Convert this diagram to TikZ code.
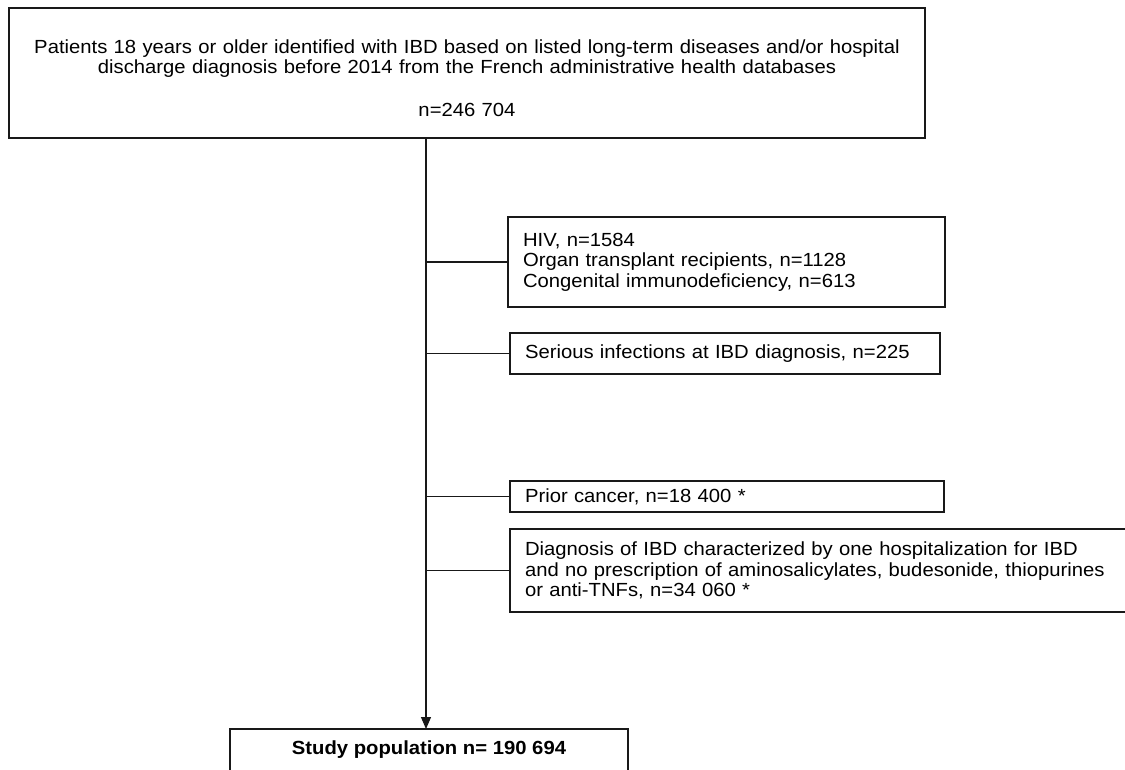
\documentclass[tikz,border=0pt]{standalone}
\usepackage{fontspec}
\setmainfont{Liberation Sans}[FakeStretch=1.066]
\usepackage{xcolor}
\usepackage{tikz}
\usetikzlibrary{arrows.meta, positioning, calc}
\definecolor{boxline}{RGB}{25, 25, 25}

\tikzset{
    flowbox/.style={draw=boxline, line width=1.3pt, inner sep=0pt,
                    outer sep=0pt, font=\fontsize{19}{20.5}\selectfont},
    exclbox/.style={flowbox, anchor=north west, align=left,
                    inner xsep=15pt},
    link/.style={draw=boxline, line width=1.1pt}
}

\begin{document}
\begin{tikzpicture}[x=1pt, y=-1pt]
    \useasboundingbox (0,0) rectangle (1125,769);
    \node[flowbox, anchor=north west, minimum width=916pt,
          minimum height=130pt, text width=900pt, align=center]
        (source) at (9,8)
        {\rule{0pt}{24pt}Patients 18 years or older identified with IBD based on listed long-term diseases and/or hospital\\
         discharge diagnosis before 2014 from the French administrative health databases\\[22pt]
         n=246 704};
    \node[exclbox, minimum width=437pt, minimum height=90pt, text width=407pt]
        (immuno) at (508,217)
        {HIV, n=1584\\Organ transplant recipients, n=1128\\Congenital immunodeficiency, n=613};
    \node[exclbox, minimum width=430pt, minimum height=41pt, text width=400pt]
        (infect) at (510,333)
        {Serious infections at IBD diagnosis, n=225};
    \node[exclbox, minimum width=434pt, minimum height=31pt, text width=404pt]
        (cancer) at (510,481)
        {Prior cancer, n=18 400 *};
    \node[exclbox, minimum width=625pt, minimum height=83pt, text width=595pt]
        (diagnosis) at (510,529)
        {Diagnosis of IBD characterized by one hospitalization for IBD\\
         and no prescription of aminosalicylates, budesonide, thiopurines\\
         or anti-TNFs, n=34 060 *};
    \node[flowbox, anchor=north, minimum width=398pt, inner ysep=12pt,
          text height=13pt, text depth=30pt, font=\fontsize{19}{20.5}\selectfont\bfseries]
        (study) at (429,729)
        {Study population n= 190 694};
    \coordinate (spine) at ($(study.north)+(-3,0)$);
    \draw[link, -{Triangle[length=12pt, width=10pt]}]
        (source.south -| spine) -- (spine);
    \foreach \b in {immuno, infect, cancer, diagnosis}
        \draw[link] (\b.west -| spine) -- (\b.west);
\end{tikzpicture}
\end{document}
